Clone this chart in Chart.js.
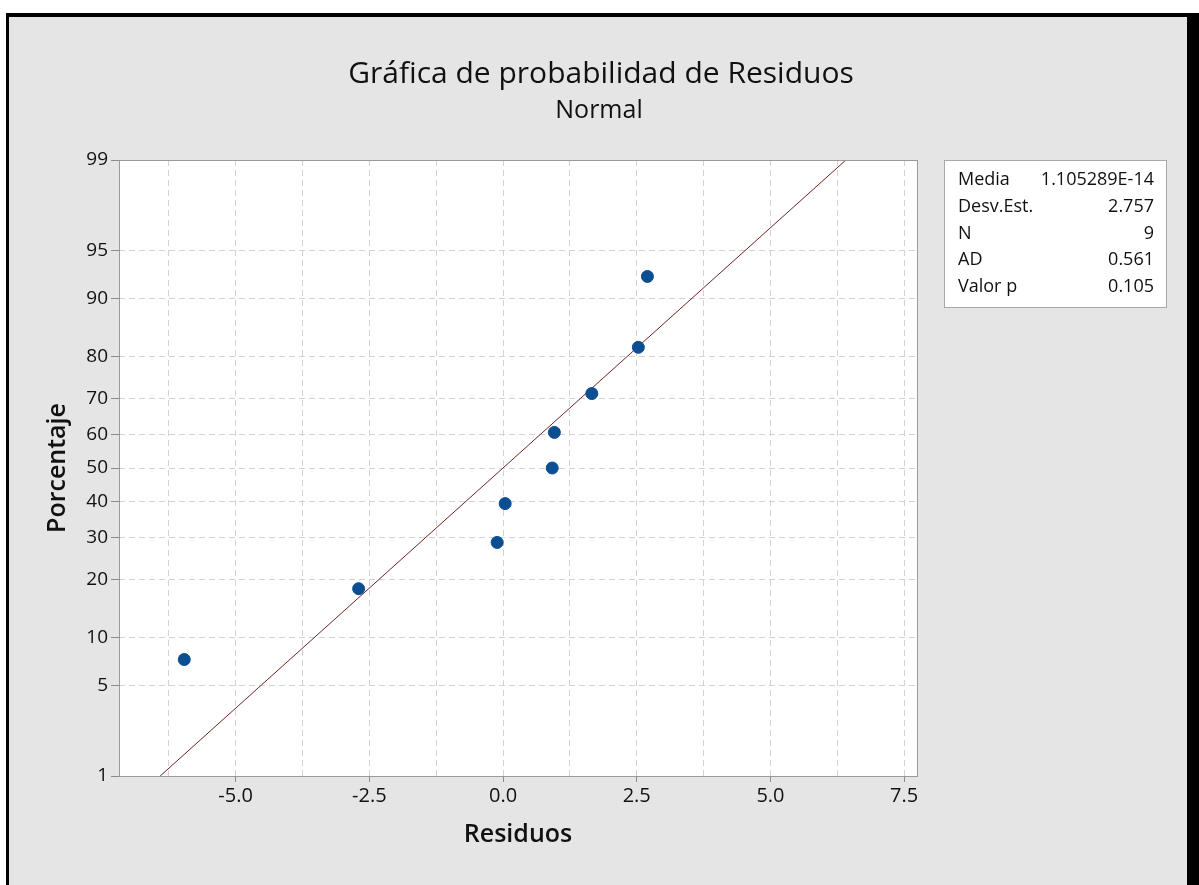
<!DOCTYPE html>
<html>
<head>
<meta charset="utf-8">
<script src="https://cdn.jsdelivr.net/npm/chart.js@4"></script>
<style>
  body { margin: 0; background: #fff; }
  #marco {
    position: absolute; left: 6px; top: 13px; width: 1178px; height: 900px;
    background: #e5e5e5;
    border-left: 3px solid #000; border-top: 4px solid #000; border-right: 12px solid #000;
  }
  canvas { position: absolute; left: 0; top: 0; }
</style>
</head>
<body>
<div id="marco"></div>
<canvas id="probChart" width="1199" height="885"></canvas>
<script>
// Datos
const residuos = [-5.96, -2.70, -0.11, 0.04, 0.92, 0.96, 1.66, 2.53, 2.70];
const porcentajes = [7.4, 18.1, 28.7, 39.4, 50, 60.6, 71.3, 81.9, 92.6];

// Recta de ajuste (extremos)
const lineaResiduos = [-6.41, 6.41];
const lineaPorcentajes = [1, 99];

// Ticks
const yTicks = [1, 5, 10, 20, 30, 40, 50, 60, 70, 80, 90, 95, 99];
const xTicksMayores = [-5, -2.5, 0, 2.5, 5, 7.5];
const xTicksLabels = ["-5.0", "-2.5", "0.0", "2.5", "5.0", "7.5"];
const xGridMenores = [-6.25, -3.75, -1.25, 1.25, 3.75, 6.25];

// Tabla de estadísticos
const statNombres = ["Media", "Desv.Est.", "N", "AD", "Valor p"];
const statValores = ["1.105289E-14", "2.757", "9", "0.561", "0.105"];

// Inversa de la normal estándar (Acklam)
function probit(p) {
  const a = [-39.69683028665376, 220.9460984245205, -275.9285104469687, 138.3577518672690, -30.66479806614716, 2.506628277459239];
  const b = [-54.47609879822406, 161.5858368580409, -155.6989798598866, 66.80131188771972, -13.28068155288572];
  const c = [-0.007784894002430293, -0.3223964580411365, -2.400758277161838, -2.549732539343734, 4.374664141464968, 2.938163982698783];
  const d = [0.007784695709041462, 0.3224671290700398, 2.445134137142996, 3.754408661907416];
  const plow = 0.02425;
  let q, r;
  if (p < plow) {
    q = Math.sqrt(-2 * Math.log(p));
    return (((((c[0]*q+c[1])*q+c[2])*q+c[3])*q+c[4])*q+c[5]) / ((((d[0]*q+d[1])*q+d[2])*q+d[3])*q+1);
  }
  if (p <= 1 - plow) {
    q = p - 0.5; r = q * q;
    return (((((a[0]*r+a[1])*r+a[2])*r+a[3])*r+a[4])*r+a[5])*q / (((((b[0]*r+b[1])*r+b[2])*r+b[3])*r+b[4])*r+1);
  }
  q = Math.sqrt(-2 * Math.log(1 - p));
  return -(((((c[0]*q+c[1])*q+c[2])*q+c[3])*q+c[4])*q+c[5]) / ((((d[0]*q+d[1])*q+d[2])*q+d[3])*q+1);
}

const puntos = residuos.map((r, i) => ({ x: r, y: probit(porcentajes[i] / 100) }));
const linea = lineaResiduos.map((r, i) => ({ x: r, y: probit(lineaPorcentajes[i] / 100) }));

// Fondo blanco del área, marco y títulos
const decoracion = {
  id: "decoracion",
  beforeDraw(chart) {
    const { ctx, chartArea: a } = chart;
    ctx.save();
    ctx.fillStyle = "#fff";
    ctx.fillRect(a.left, a.top, a.right - a.left, a.bottom - a.top);
    ctx.restore();
  },
  afterDraw(chart) {
    const { ctx, chartArea: a } = chart;
    ctx.save();
    ctx.strokeStyle = "#9a9a9a";
    ctx.lineWidth = 1;
    ctx.strokeRect(Math.round(a.left) + 0.5, Math.round(a.top) + 0.5, Math.round(a.right - a.left), Math.round(a.bottom - a.top));

    // títulos
    ctx.fillStyle = "#111";
    ctx.textAlign = "center";
    ctx.textBaseline = "alphabetic";
    ctx.font = "400 30px 'Open Sans'";
    ctx.fillText("Gráfica de probabilidad de Residuos", 601, 83);
    ctx.font = "400 25px 'Open Sans'";
    ctx.fillText("Normal", 599, 118);

    // tabla de estadísticos
    ctx.fillStyle = "#fff";
    ctx.fillRect(944, 160, 222, 147);
    ctx.strokeStyle = "#a8a8a8";
    ctx.strokeRect(944.5, 160.5, 222, 147);
    ctx.fillStyle = "#111";
    ctx.font = "400 18px 'Open Sans'";
    ctx.textBaseline = "middle";
    statNombres.forEach((n, i) => {
      const y = 180 + i * 26.7;
      ctx.textAlign = "left";
      ctx.fillText(n, 958, y);
      ctx.textAlign = "right";
      ctx.fillText(statValores[i], 1154, y);
    });
    ctx.restore();
  }
};

Chart.defaults.font.family = "'Open Sans', sans-serif";
Chart.defaults.color = "#111";

new Chart(document.getElementById("probChart"), {
  type: "scatter",
  data: {
    datasets: [
      {
        label: "Residuos",
        data: puntos,
        backgroundColor: "#0b4e91",
        borderColor: "#0b4e91",
        pointRadius: 6,
        order: 0
      },
      {
        type: "line",
        label: "Ajuste",
        data: linea,
        borderColor: "#702424",
        borderWidth: 1,
        pointRadius: 0,
        fill: false,
        order: 1
      }
    ]
  },
  options: {
    responsive: false,
    animation: false,
    layout: { padding: { left: 36, top: 160, right: 282, bottom: 0 } },
    plugins: {
      legend: { display: false },
      tooltip: { enabled: false }
    },
    scales: {
      x: {
        type: "linear",
        min: -7.18,
        max: 7.74,
        afterBuildTicks: s => {
          s.ticks = [...xGridMenores, ...xTicksMayores].sort((p, q) => p - q).map(v => ({ value: v }));
        },
        afterFit: s => { s.height = 109; },
        ticks: {
          autoSkip: false,
          maxRotation: 0,
          minRotation: 0,
          padding: 2,
          font: { size: 20 },
          callback: v => {
            const i = xTicksMayores.indexOf(v);
            return i >= 0 ? xTicksLabels[i] : "";
          }
        },
        grid: {
          color: "#d2d2d2",
          lineWidth: 1,
          tickLength: 6,
          tickColor: c => (c.tick && xTicksMayores.includes(c.tick.value)) ? "#8a8a8a" : "rgba(0,0,0,0)"
        },
        border: { display: false, dash: [6, 4] },
        title: {
          display: true,
          text: "Residuos",
          font: { size: 25, weight: "600" },
          padding: { top: 0, bottom: 35 }
        }
      },
      y: {
        type: "linear",
        min: probit(0.01),
        max: probit(0.99),
        afterBuildTicks: s => {
          s.ticks = yTicks.map(p => ({ value: probit(p / 100) }));
        },
        afterFit: s => { s.width = 83; },
        ticks: {
          autoSkip: false,
          padding: 3,
          font: { size: 19 },
          callback: (v, i) => yTicks[i]
        },
        grid: {
          color: "#d2d2d2",
          lineWidth: 1,
          tickLength: 8,
          tickColor: "#8a8a8a"
        },
        border: { display: false, dash: [6, 4] },
        title: {
          display: true,
          text: "Porcentaje",
          font: { size: 25, weight: "600" },
          padding: { top: 7, bottom: 0 }
        }
      }
    }
  },
  plugins: [decoracion]
});
</script>
</body>
</html>
